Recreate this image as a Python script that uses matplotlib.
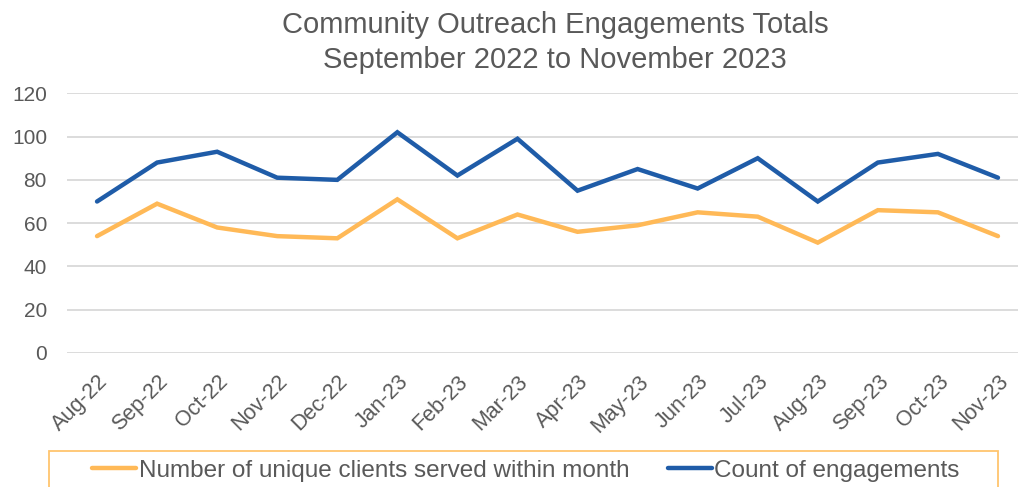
import matplotlib
matplotlib.use('Agg')
import matplotlib.pyplot as plt
from matplotlib.patches import Rectangle

months = ['Aug-22', 'Sep-22', 'Oct-22', 'Nov-22', 'Dec-22', 'Jan-23', 'Feb-23', 'Mar-23',
          'Apr-23', 'May-23', 'Jun-23', 'Jul-23', 'Aug-23', 'Sep-23', 'Oct-23', 'Nov-23']
unique_clients = [54, 69, 58, 54, 53, 71, 53, 64, 56, 59, 65, 63, 51, 66, 65, 54]
engagements = [70, 88, 93, 81, 80, 102, 82, 99, 75, 85, 76, 90, 70, 88, 92, 81]

plt.rcParams['font.family'] = ['Liberation Sans', 'DejaVu Sans']
grey = '#595959'
orange = '#FFB957'
blue = '#1F5CA8'

fig = plt.figure(figsize=(10.18, 4.87), dpi=100)
ax = fig.add_axes([67/1018, 1-353/487, (1028-67)/1018, (353-93.3)/487])

x = list(range(len(months)))
l1, = ax.plot(x, unique_clients, color=orange, lw=3.2, solid_capstyle='round', solid_joinstyle='miter')
l2, = ax.plot(x, engagements, color=blue, lw=3.2, solid_capstyle='round', solid_joinstyle='miter')

ax.set_xlim(-0.5, len(months) - 0.5)
ax.set_ylim(0, 120)
ax.set_yticks(range(0, 121, 20))
ax.set_xticks(x)
ax.set_xticklabels(months, rotation=45, ha='right', rotation_mode='anchor')
ax.tick_params(axis='both', length=0, labelsize=15, colors=grey)
ax.tick_params(axis='x', labelsize=15.5, pad=13)
ax.tick_params(axis='y', pad=14.4)
ax.grid(axis='y', color='#D9D9D9', lw=1.3)
ax.set_axisbelow(True)
for s in ax.spines.values():
    s.set_visible(False)

fig.text(555/1018, 1-25/487, 'Community Outreach Engagements Totals', ha='center', va='center',
         fontsize=21, color=grey)
fig.text(555/1018, 1-60/487, 'September 2022 to November 2023', ha='center', va='center',
         fontsize=21, color=grey)

fig.patches.append(Rectangle((49/1018, 1-500/487), 949/1018, 49/487, transform=fig.transFigure,
                             fill=False, edgecolor='#FFC56E', lw=1.3))
fig.legend([l1, l2], ['Number of unique clients served within month', 'Count of engagements'],
           loc='center', bbox_to_anchor=(526/1018, 1-470.5/487), ncol=2, frameon=False,
           fontsize=17.5, handlelength=1.8, handletextpad=0.1, columnspacing=1.6,
           labelcolor=grey)

fig.savefig('out.png', dpi=100)
